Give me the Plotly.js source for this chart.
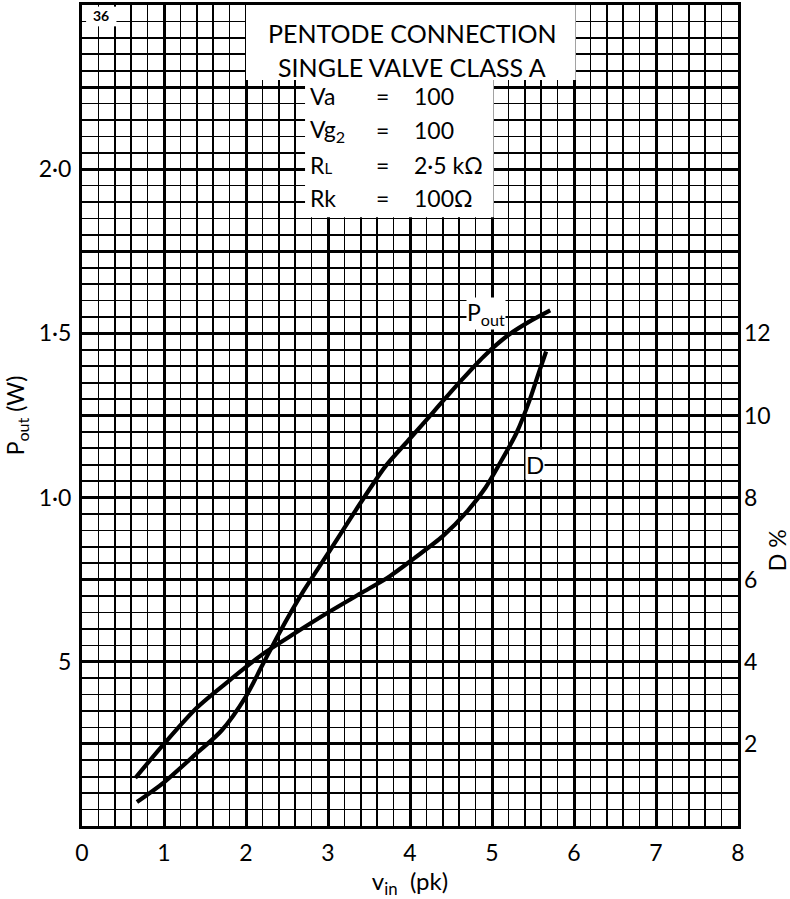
<!DOCTYPE html>
<html>
<head>
<meta charset="utf-8">
<script src="https://cdn.plot.ly/plotly-3.0.1.min.js"></script>
<style>html,body{margin:0;padding:0;background:#fff;}#chart{width:790px;height:899px;}</style>
</head>
<body>
<div id="chart"></div>
<script>
// Pout curve (left axis, W)
const vinP = [0.67, 1.0, 1.4, 1.7, 2.0, 2.2, 2.4, 2.7, 3.0, 3.4, 3.7, 4.0, 4.3, 4.6, 4.9, 5.2, 5.45, 5.71];
const pout = [0.073, 0.133, 0.222, 0.29, 0.395, 0.49, 0.585, 0.715, 0.83, 0.985, 1.095, 1.18, 1.265, 1.35, 1.43, 1.495, 1.535, 1.57];
// Distortion curve (right axis, %)
const vinD = [0.65, 1.0, 1.4, 1.8, 2.2, 2.6, 3.0, 3.4, 3.75, 4.05, 4.4, 4.7, 4.92, 5.1, 5.3, 5.46, 5.57, 5.66];
const dist = [1.17, 2.0, 2.88, 3.55, 4.18, 4.7, 5.2, 5.67, 6.08, 6.52, 7.06, 7.67, 8.24, 8.85, 9.58, 10.38, 11.04, 11.56];
// Tick labels
const xTickVals = [0, 1, 2, 3, 4, 5, 6, 7, 8];
const xTickText = ['0', '1', '2', '3', '4', '5', '6', '7', '8'];
const yTickVals = [0.25, 0.5, 0.75, 1.0, 1.25, 1.5, 1.75, 2.0, 2.25];
const yTickText = ['', '5', '', '1·0', '', '1·5', '', '2·0', ''];
const y2TickVals = [2, 4, 6, 8, 10, 12];
const y2TickText = ['2', '4', '6', '8', '10', '12'];
// Condition box text
const condLabels = ['Va', 'Vg<sub>2</sub>', 'R<span style="font-size:15px">L</span>', 'Rk'];
const condValues = ['100', '100', '2·5 kΩ', '100Ω'];

const FONT = 'Lato, "Open Sans", sans-serif';

const traces = [
  {x: vinP, y: pout, xaxis: 'x', yaxis: 'y', type: 'scatter', mode: 'lines',
   line: {color: '#000', width: 4.2, shape: 'spline', smoothing: 0.8}, hoverinfo: 'skip'},
  {x: vinD, y: dist, xaxis: 'x', yaxis: 'y2', type: 'scatter', mode: 'lines',
   line: {color: '#000', width: 4.2, shape: 'spline', smoothing: 0.8}, hoverinfo: 'skip'}
];

const rowY = [2.223, 2.119, 2.013, 1.912];
const annotations = [
  {x: 4.03, y: 2.415, xref: 'x', yref: 'y', xanchor: 'center', yanchor: 'middle', text: 'PENTODE CONNECTION', showarrow: false, font: {size: 25}},
  {x: 4.03, y: 2.311, xref: 'x', yref: 'y', xanchor: 'center', yanchor: 'middle', text: 'SINGLE VALVE CLASS A', showarrow: false, font: {size: 25}},
  {x: 4.93, y: 1.562, xref: 'x', yref: 'y', xanchor: 'center', yanchor: 'middle', text: 'P<sub>out</sub>', showarrow: false, font: {size: 23}, bgcolor: '#fff', borderpad: 0},
  {x: 5.52, y: 1.10, xref: 'x', yref: 'y', xanchor: 'center', yanchor: 'middle', text: 'D', showarrow: false, font: {size: 24}, bgcolor: '#fff', borderpad: 0},
  {x: 0.23, y: 2.467, xref: 'x', yref: 'y', xanchor: 'center', yanchor: 'middle', text: '<b>36</b>', showarrow: false, font: {size: 14}},
  {x: 1.0595, y: 0.336, xref: 'paper', yref: 'paper', xanchor: 'center', yanchor: 'middle', text: 'D %', textangle: -90, showarrow: false, font: {size: 23}}
];
condLabels.forEach((lab, i) => {
  annotations.push({x: 2.76, y: rowY[i], xref: 'x', yref: 'y', xanchor: 'left', yanchor: 'middle', text: lab, showarrow: false, font: {size: 23}});
  annotations.push({x: 3.67, y: rowY[i], xref: 'x', yref: 'y', xanchor: 'center', yanchor: 'middle', text: '=', showarrow: false, font: {size: 23}});
  annotations.push({x: 4.03, y: rowY[i], xref: 'x', yref: 'y', xanchor: 'left', yanchor: 'middle', text: condValues[i], showarrow: false, font: {size: 23}});
});

const shapes = [
  {type: 'rect', xref: 'x', yref: 'y', x0: 2.0, x1: 6.02, y0: 2.272, y1: 2.5, fillcolor: '#fff', line: {width: 0}, layer: 'between'},
  {type: 'rect', xref: 'x', yref: 'y', x0: 2.72, x1: 5.02, y0: 1.854, y1: 2.28, fillcolor: '#fff', line: {width: 0}, layer: 'between'},
  {type: 'rect', xref: 'x', yref: 'y', x0: 0.05, x1: 0.42, y0: 2.435, y1: 2.495, fillcolor: '#fff', line: {width: 0}, layer: 'between'}
];

const layout = {
  width: 790, height: 899,
  margin: {l: 82, r: 52, t: 5, b: 73},
  paper_bgcolor: '#fff', plot_bgcolor: '#fff',
  showlegend: false,
  font: {family: FONT, color: '#000', size: 22},
  xaxis: {
    range: [0, 8], tickmode: 'array', tickvals: xTickVals, ticktext: xTickText,
    showgrid: true, gridcolor: '#000', gridwidth: 3,
    minor: {tickmode: 'linear', tick0: 0, dtick: 0.2, showgrid: true, gridcolor: '#000', gridwidth: 1.7},
    zeroline: false, showline: true, linecolor: '#000', linewidth: 3, mirror: true,
    ticks: '', tickfont: {size: 23}, ticklabelstandoff: 4,
    title: {text: 'v<sub>in</sub>  (pk)', font: {size: 24}, standoff: 9}
  },
  yaxis: {
    range: [0, 2.5], tickmode: 'array', tickvals: yTickVals, ticktext: yTickText,
    showgrid: true, gridcolor: '#000', gridwidth: 3,
    minor: {tickmode: 'linear', tick0: 0, dtick: 0.05, showgrid: true, gridcolor: '#000', gridwidth: 1.7},
    zeroline: false, showline: true, linecolor: '#000', linewidth: 3, mirror: true,
    ticks: '', tickfont: {size: 23}, ticklabelstandoff: 3,
    title: {text: 'P<sub>out</sub> (W)', font: {size: 23}, standoff: 8}
  },
  yaxis2: {
    range: [0, 20], overlaying: 'y', side: 'right', tickmode: 'array',
    tickvals: y2TickVals, ticktext: y2TickText,
    showgrid: false, zeroline: false, showline: false, ticks: '', tickfont: {size: 23},
    ticklabelstandoff: 5
  },
  annotations: annotations,
  shapes: shapes
};

Plotly.newPlot('chart', traces, layout, {displayModeBar: false, staticPlot: true});
</script>
</body>
</html>
